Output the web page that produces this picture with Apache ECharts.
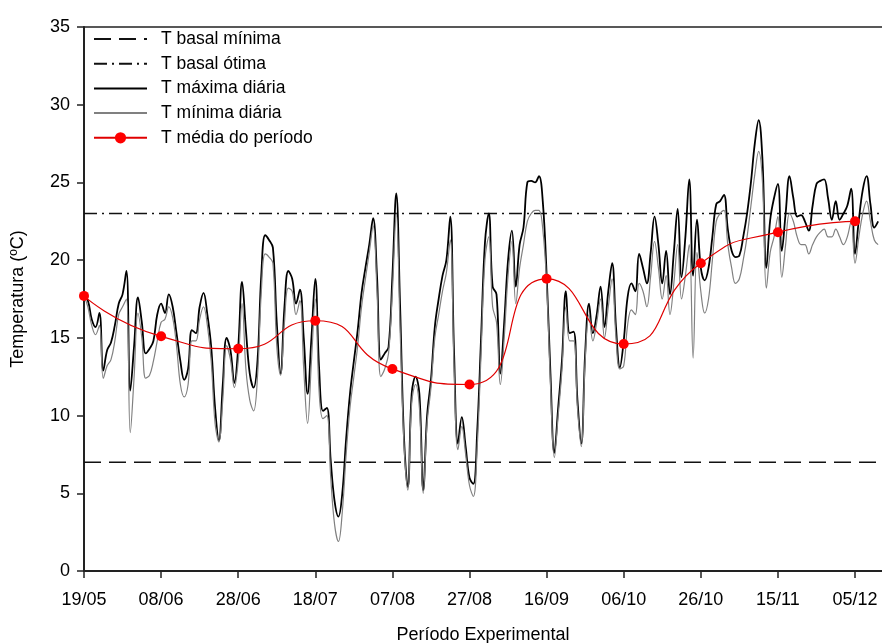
<!DOCTYPE html>
<html>
<head>
<meta charset="utf-8">
<script src="https://cdn.jsdelivr.net/npm/echarts@6/dist/echarts.min.js"></script>
<style>
  html, body { margin: 0; padding: 0; background: #fff; }
  #chart { width: 882px; height: 643px; }
</style>
</head>
<body>
<div id="chart"></div>
<script>
// Dates shown under the x axis, one every 20 days from 19/05
const tickLabels = ['19/05', '08/06', '28/06', '18/07', '07/08', '27/08', '16/09', '06/10', '26/10', '15/11', '05/12'];
const tickStep = 20;

// Base temperatures (ºC)
const tBasalMin = 7;
const tBasalOtima = 23;

// Daily maximum temperature (ºC), one value per day from 19/05
const tMaxDiaria = [
  17.7, 17.4, 16.2, 15.7, 16.6, 12.9, 14.2, 14.7, 15.8, 17.2,
  17.8, 19.3, 11.6, 14.5, 17.6, 16.0, 14.0, 14.3, 14.8, 16.5,
  17.2, 16.6, 17.8, 17.0, 15.3, 13.5, 12.3, 13.0, 15.5, 15.3,
  17.0, 17.9, 16.5, 14.4, 10.5, 8.4, 12.0, 15.0, 14.2, 12.1,
  14.4, 18.6, 15.5, 12.7, 11.8, 13.5, 19.1, 21.6, 21.3, 20.8,
  16.0, 12.7, 17.0, 19.3, 18.8, 17.2, 18.1, 15.0, 11.4, 15.0,
  18.8, 13.0, 10.3, 10.5, 7.1, 4.5, 3.5, 5.0, 8.5, 11.4,
  13.5, 15.5, 17.9, 19.5, 21.0, 22.7, 19.0, 13.6, 14.0, 14.4,
  19.0, 24.3, 17.0, 8.6, 5.4, 11.4, 12.5, 11.4, 5.2, 10.0,
  12.3, 15.7, 17.5, 19.0, 20.0, 22.8, 14.0, 8.2, 9.9, 8.0,
  6.0, 5.6, 9.0, 15.0, 21.1, 23.0, 18.3, 17.8, 12.7, 16.0,
  20.0, 21.9, 18.3, 21.0, 22.1, 25.0, 25.1, 25.0, 25.4, 23.8,
  19.1, 12.7, 7.6, 10.5, 13.6, 18.0, 15.3, 15.4, 11.0, 8.2,
  14.0, 17.2, 15.3, 16.5, 18.3, 15.7, 18.0, 19.8, 15.7, 13.1,
  14.8, 17.6, 18.5, 18.0, 20.4, 19.5, 18.5, 20.5, 22.8, 21.0,
  18.5, 20.6, 17.8, 20.5, 23.3, 18.9, 21.5, 25.2, 19.0, 22.6,
  19.5, 18.7, 19.5, 21.5, 23.6, 23.8, 24.2, 22.0, 20.6, 20.2,
  20.3, 21.5, 23.0, 25.0, 27.5, 29.0, 26.4, 19.5, 22.6, 24.0,
  24.9, 20.6, 23.0, 25.4, 24.0, 22.8, 22.9, 22.5, 21.9, 23.5,
  24.9, 25.1, 25.2, 24.0, 22.6, 23.8, 22.6, 23.0, 23.5, 24.6,
  20.4, 22.6, 24.5, 25.4, 23.6, 22.1, 22.5
];

// Daily minimum temperature (ºC), same days
const tMinDiaria = [
  17.7, 17.0, 15.8, 15.2, 15.8, 12.4, 13.2, 13.6, 14.8, 16.5,
  17.0, 17.5, 8.9, 12.5, 16.6, 15.0, 12.4, 12.6, 13.5, 14.8,
  16.0, 16.2, 17.0, 16.3, 14.5, 12.0, 11.2, 12.0, 14.8, 14.8,
  16.2, 17.0, 15.8, 13.5, 9.5, 8.3, 11.0, 14.5, 13.6, 11.8,
  13.5, 17.2, 13.0, 11.0, 10.3, 12.5, 18.0, 20.4, 20.2, 19.8,
  14.5, 12.6, 16.0, 18.2, 18.0, 16.5, 17.4, 13.0, 9.5, 13.5,
  17.5, 11.5, 9.8, 10.0, 6.0, 3.0, 1.9, 3.8, 7.5, 10.5,
  12.5, 14.5, 17.0, 18.8, 20.5, 22.2, 18.0, 12.5, 13.0, 14.0,
  18.0, 23.0, 15.5, 8.2, 5.2, 10.8, 12.0, 10.5, 5.0, 9.5,
  11.8, 15.0, 16.5, 18.0, 19.2, 21.3, 13.0, 7.8, 9.3, 7.5,
  5.5, 4.8, 8.0, 14.0, 20.0, 21.5, 17.0, 16.0, 12.0, 15.0,
  19.0, 21.2, 17.2, 19.5, 21.0, 22.5, 23.0, 23.2, 23.2, 22.0,
  18.5, 12.0, 7.3, 10.0, 13.0, 17.0, 14.8, 14.8, 10.5, 8.0,
  13.5, 16.5, 14.8, 16.0, 17.5, 15.0, 17.0, 18.8, 15.0, 13.0,
  13.2, 15.8, 16.8, 16.5, 18.5, 18.0, 17.0, 19.0, 21.2, 19.5,
  17.5, 19.0, 16.5, 18.5, 21.0, 17.5, 19.0, 21.0, 13.7, 20.5,
  18.0, 16.6, 17.5, 20.0, 22.5, 23.0, 23.2, 21.0, 19.5, 18.5,
  18.8, 20.0, 21.5, 23.5, 25.5, 27.0, 25.0, 18.2, 20.5, 21.5,
  22.8, 18.9, 21.0, 23.0, 22.5, 21.5, 21.0, 21.0, 20.4, 21.0,
  21.5, 21.8, 22.0, 21.5, 21.5, 22.0, 21.5, 21.0, 21.5, 22.5,
  19.8, 21.5, 23.0, 23.8, 22.5, 21.3, 21.0
];

// Mean temperature of each 20-day period
const mediaDias = [0, 20, 40, 60, 80, 100, 120, 140, 160, 180, 200];
const tMediaPeriodo = [17.7, 15.1, 14.3, 16.1, 13.0, 12.0, 18.8, 14.6, 19.8, 21.8, 22.5];

const lastDay = 207;

const maxData = tMaxDiaria.map((v, i) => [i, v]);
const minData = tMinDiaria.map((v, i) => [i, v]);
const mediaData = mediaDias.map((d, i) => [d, tMediaPeriodo[i]]);
const tickDays = tickLabels.map((_, i) => i * tickStep);

const font = '"Liberation Sans", Arial, sans-serif';
const noMarker = { opacity: 0 };

const chart = echarts.init(document.getElementById('chart'), null, { renderer: 'canvas' });

chart.setOption({
  animation: false,
  backgroundColor: '#ffffff',
  textStyle: { fontFamily: font },
  // fixed plot box; the axis title may run past the bottom edge
  grid: { left: 84, right: 0, top: 27, bottom: 72, containLabel: false, outerBoundsMode: 'none' },
  legend: {
    orient: 'vertical',
    left: 93,
    top: 30,
    padding: 0,
    itemWidth: 53,
    itemHeight: 14,
    itemGap: 6.7,
    textStyle: { fontFamily: font, fontSize: 17.5, color: '#000', padding: [0, 0, 0, 9], lineHeight: 14 },
    data: [
      { name: 'T basal mínima', itemStyle: noMarker },
      { name: 'T basal ótima', itemStyle: noMarker },
      { name: 'T máxima diária', itemStyle: noMarker },
      { name: 'T mínima diária', itemStyle: noMarker },
      { name: 'T média do período' }
    ]
  },
  xAxis: [
    {
      type: 'value',
      min: 0,
      max: lastDay,
      interval: tickStep,
      name: 'Período Experimental',
      nameLocation: 'middle',
      nameGap: 55,
      nameTextStyle: { fontFamily: font, fontSize: 18, color: '#000' },
      axisLine: { show: true, onZero: false, lineStyle: { color: '#222', width: 2 } },
      axisTick: { show: true, inside: false, length: 7, customValues: tickDays, lineStyle: { color: '#222', width: 1.5 } },
      axisLabel: {
        fontFamily: font, fontSize: 18, color: '#000', margin: 20,
        customValues: tickDays,
        formatter: v => tickLabels[Math.round(v / tickStep)] || ''
      },
      splitLine: { show: false }
    },
    {
      type: 'value',
      position: 'top',
      min: 0,
      max: lastDay,
      axisLine: { show: true, onZero: false, lineStyle: { color: '#222', width: 1.5 } },
      axisTick: { show: false },
      axisLabel: { show: false },
      splitLine: { show: false }
    }
  ],
  yAxis: {
    type: 'value',
    min: 0,
    max: 35,
    interval: 5,
    name: 'Temperatura (ºC)',
    nameLocation: 'middle',
    nameGap: 57,
    nameRotate: 90,
    nameTextStyle: { fontFamily: font, fontSize: 18, color: '#000' },
    axisLine: { show: true, onZero: false, lineStyle: { color: '#222', width: 2 } },
    axisTick: { show: true, inside: false, length: 7, lineStyle: { color: '#222', width: 1.5 } },
    axisLabel: { fontFamily: font, fontSize: 18, color: '#000', margin: 14 },
    splitLine: { show: false }
  },
  series: [
    {
      name: 'T basal mínima',
      type: 'line',
      symbol: 'none',
      data: [[0, tBasalMin], [lastDay, tBasalMin]],
      lineStyle: { color: '#111', width: 1.6, type: [17, 8] },
      z: 2
    },
    {
      name: 'T basal ótima',
      type: 'line',
      symbol: 'none',
      data: [[0, tBasalOtima], [lastDay, tBasalOtima]],
      lineStyle: { color: '#111', width: 1.4, type: [13, 5, 2, 5] },
      z: 2
    },
    {
      name: 'T máxima diária',
      type: 'line',
      symbol: 'none',
      smooth: 0.4,
      data: maxData,
      lineStyle: { color: '#000', width: 1.8 },
      z: 3
    },
    {
      name: 'T mínima diária',
      type: 'line',
      symbol: 'none',
      smooth: 0.4,
      data: minData,
      lineStyle: { color: '#808080', width: 1.2 },
      z: 4
    },
    {
      name: 'T média do período',
      type: 'line',
      symbol: 'circle',
      symbolSize: 10,
      smooth: 0.6,
      data: mediaData,
      itemStyle: { color: '#ff0000' },
      lineStyle: { color: '#e00000', width: 1.2 },
      z: 5
    }
  ]
});
</script>
</body>
</html>
